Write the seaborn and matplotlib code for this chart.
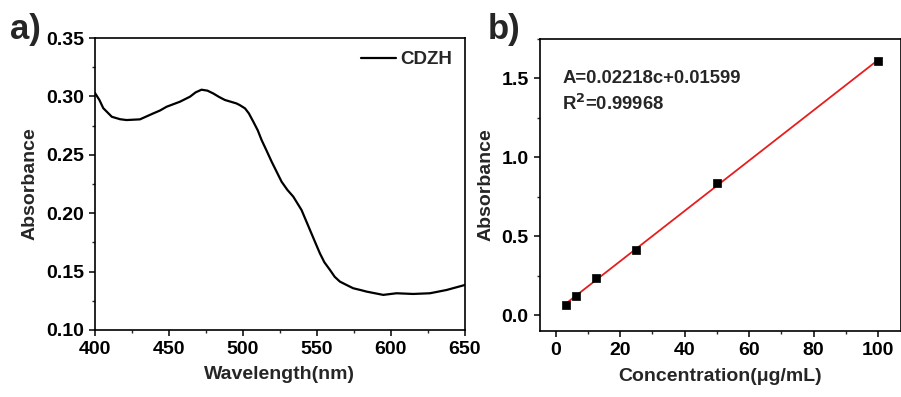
import matplotlib
matplotlib.use("Agg")
import matplotlib.pyplot as plt
import seaborn as sns
import numpy as np
import pandas as pd
from matplotlib.ticker import MultipleLocator

# spectrum read off panel a)
wavelength = [400, 403, 405.6, 411.4, 417, 421.4, 430.4, 439.4, 444, 448.4, 457.4,
              464.2, 468, 472, 476, 479.9, 484, 487.8, 495.7, 498, 501.4, 504, 507,
              510, 512.6, 516, 519.4, 526.1, 530, 534, 539.6, 542, 545.3, 549, 552,
              555, 558.8, 562, 565.5, 570, 574.5, 580, 583.6, 594.8, 603.8, 615,
              626.4, 637.6, 650]
absorb = [0.303, 0.297, 0.290, 0.2826, 0.2805, 0.2798, 0.2804, 0.2855, 0.288, 0.2912,
          0.2955, 0.2998, 0.3035, 0.3058, 0.305, 0.3026, 0.2995, 0.297, 0.294, 0.2925,
          0.2898, 0.2855, 0.2784, 0.271, 0.2627, 0.2535, 0.2441, 0.227, 0.220, 0.2142,
          0.2027, 0.1955, 0.1856, 0.1745, 0.1656, 0.158, 0.1514, 0.1455, 0.1414, 0.1385,
          0.1357, 0.1340, 0.1328, 0.130, 0.1314, 0.1308, 0.1314, 0.1342, 0.1385]

# calibration points, panel b)
conc = [3.125, 6.25, 12.5, 25, 50, 100]
conc_abs = [0.066, 0.12, 0.235, 0.415, 0.835, 1.61]
eq_text = "A=0.02218c+0.01599"
r2_text = "R$^\\mathbf{2}$=0.99968"

sns.set_style("ticks")
plt.rcParams['font.family'] = ['Liberation Sans', 'DejaVu Sans']
plt.rcParams['font.weight'] = 'bold'
plt.rcParams['axes.labelweight'] = 'bold'
plt.rcParams['xtick.direction'] = 'out'
plt.rcParams['ytick.direction'] = 'out'

fig = plt.figure(figsize=(9.01, 3.97), dpi=100)
ax1 = fig.add_axes([0.1054, 0.169, 0.4106, 0.735])
ax2 = fig.add_axes([0.599, 0.166, 0.4005, 0.736])

spec = pd.DataFrame({"wl": wavelength, "A": absorb})
sns.lineplot(data=spec, x="wl", y="A", ax=ax1, color="black", lw=1.6, label="CDZH")
ax1.set_xlim(400, 650)
ax1.set_ylim(0.10, 0.35)
ax1.xaxis.set_major_locator(MultipleLocator(50))
ax1.xaxis.set_minor_locator(MultipleLocator(25))
ax1.set_yticks(np.arange(0.10, 0.351, 0.05))
ax1.set_yticklabels([f"{v:.2f}" for v in np.arange(0.10, 0.351, 0.05)])
ax1.yaxis.set_minor_locator(MultipleLocator(0.025))
ax1.set_xlabel("Wavelength(nm)", fontsize=14, labelpad=6)
ax1.set_ylabel("Absorbance", fontsize=14, labelpad=5)
leg = ax1.legend(loc="upper right", frameon=False, fontsize=13.5, handlelength=1.9,
                 handletextpad=0.2, borderaxespad=0.3)
for t in leg.get_texts():
    t.set_fontweight("bold")

cal = pd.DataFrame({"c": conc, "A": conc_abs})
sns.regplot(data=cal, x="c", y="A", ax=ax2, scatter=False, ci=None,
            line_kws={"color": "#e61e1e", "lw": 1.3})
sns.scatterplot(data=cal, x="c", y="A", ax=ax2, color="black", marker="s", s=30,
                edgecolor="black", linewidth=0.5, zorder=3)
ax2.set_xlim(-5, 107)
ax2.set_ylim(-0.1, 1.75)
ax2.xaxis.set_major_locator(MultipleLocator(20))
ax2.xaxis.set_minor_locator(MultipleLocator(10))
ax2.yaxis.set_major_locator(MultipleLocator(0.5))
ax2.yaxis.set_minor_locator(MultipleLocator(0.25))
ax2.set_xlabel("Concentration(μg/mL)", fontsize=14, labelpad=6)
ax2.set_ylabel("Absorbance", fontsize=14, labelpad=5)
ax2.text(0.063, 0.863, eq_text, transform=ax2.transAxes,
         fontsize=13.3, fontweight="bold", va="center")
ax2.text(0.063, 0.778, r2_text, transform=ax2.transAxes,
         fontsize=13.3, fontweight="bold", va="center")

for ax in (ax1, ax2):
    for s in ax.spines.values():
        s.set_visible(True)
        s.set_linewidth(1.2)
        s.set_color("black")
    ax.tick_params(which="major", length=4.5, width=1.1, labelsize=14, colors="black")
    ax.tick_params(which="minor", length=2.5, width=1.0)
    for lab in ax.get_xticklabels() + ax.get_yticklabels():
        lab.set_fontweight("bold")

fig.text(0.011, 0.925, "a)", fontsize=25, fontweight="bold", va="center")
fig.text(0.541, 0.925, "b)", fontsize=25, fontweight="bold", va="center")

fig.savefig("out.png", dpi=100)
